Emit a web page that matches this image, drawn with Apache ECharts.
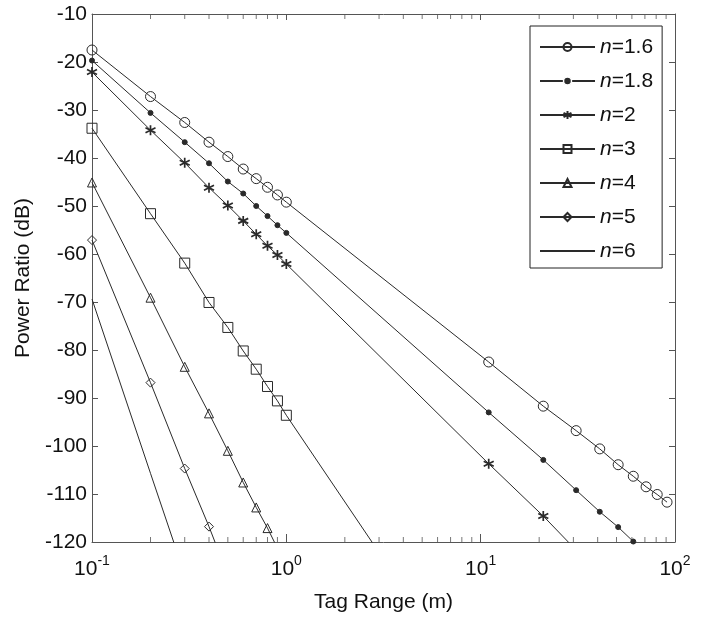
<!DOCTYPE html>
<html>
<head>
<meta charset="utf-8">
<script src="https://cdn.jsdelivr.net/npm/echarts@6/dist/echarts.min.js"></script>
<style>
html,body{margin:0;padding:0;background:#fff;}
#chart{width:708px;height:623px;}
</style>
</head>
<body>
<div id="chart"></div>
<script>
// ---- data ----
const seriesNames = ['n=1.6', 'n=1.8', 'n=2', 'n=3', 'n=4', 'n=5', 'n=6'];
const xNear = [0.1, 0.2, 0.3, 0.4, 0.5, 0.6, 0.7, 0.8, 0.9, 1.0];
const xFar = [11, 21, 31, 41, 51, 61, 71, 81, 91];

const n16Near = [-17.5, -27.2, -32.6, -36.7, -39.7, -42.3, -44.3, -46.1, -47.7, -49.2];
const n16Far = [-82.5, -91.7, -96.8, -100.6, -103.9, -106.3, -108.5, -110.1, -111.7];
const n18Near = [-19.7, -30.6, -36.7, -41.1, -44.9, -47.4, -50.0, -52.1, -54.0, -55.6];
const n18Far = [-93.0, -102.9, -109.2, -113.7, -116.9, -119.9];
const n2Near = [-22.1, -34.2, -41.0, -46.2, -49.9, -53.1, -55.9, -58.3, -60.2, -62.1];
const n2Far = [-103.7, -114.6, -121.7];
const n3Near = [-33.8, -51.6, -61.9, -70.1, -75.3, -80.2, -84.0, -87.6, -90.6, -93.6];
const n3Far = [-156.0];
const n4Near = [-45.1, -69.1, -83.5, -93.2, -101.0, -107.6, -112.8, -117.1, -121.3];
const n5Near = [-57.1, -86.8, -104.7, -116.8, -126.9];
const n6Near = [-69.4, -105.7, -126.8];

const xTickLabels = ['10^-1', '10^0', '10^1', '10^2'];
const minorTicks = [0.2,0.3,0.4,0.5,0.6,0.7,0.8,0.9, 2,3,4,5,6,7,8,9, 20,30,40,50,60,70,80,90];

// ---- build ----
function pairs(xs, ys) {
  const out = [];
  for (let i = 0; i < ys.length; i++) out.push([xs[i], ys[i]]);
  return out;
}
const LINE = '#2a2a2a';
const AXIS = '#555';
const FONT = 'Liberation Sans, Arial, sans-serif';
const asterisk = 'path://M5,0L5,10M0.4,2.5L9.6,7.5M9.6,2.5L0.4,7.5';

function mk(name, data, symbol, size, filled) {
  return {
    name: name, type: 'line', data: data,
    symbol: symbol, symbolSize: size, showAllSymbol: true,
    clip: true, silent: true, animation: false,
    lineStyle: { color: LINE, width: 1 },
    itemStyle: {
      color: filled ? LINE : 'rgba(255,255,255,0)',
      borderColor: LINE, borderWidth: 1
    }
  };
}

const series = [
  mk(seriesNames[0], pairs(xNear, n16Near).concat(pairs(xFar, n16Far)), 'circle', 10, false),
  mk(seriesNames[1], pairs(xNear, n18Near).concat(pairs(xFar, n18Far)), 'circle', 5, true),
  mk(seriesNames[2], pairs(xNear, n2Near).concat(pairs(xFar, n2Far)), asterisk, 10, false),
  mk(seriesNames[3], pairs(xNear, n3Near).concat(pairs(xFar, n3Far)), 'rect', 10, false),
  mk(seriesNames[4], pairs(xNear, n4Near), 'triangle', 9, false),
  mk(seriesNames[5], pairs(xNear, n5Near), 'diamond', 9, false),
  mk(seriesNames[6], pairs(xNear, n6Near), 'none', 1, false)
];
series[2].itemStyle.borderWidth = 1.7;

// minor ticks of log axis (bottom and top), placed through the axis scales
series.push({
  type: 'scatter', silent: true, clip: false, animation: false,
  data: minorTicks.map(v => [v, -120]),
  symbol: 'rect', symbolSize: [1, 5], symbolOffset: [0, -2.5],
  itemStyle: { color: AXIS }
});
series.push({
  type: 'scatter', silent: true, clip: false, animation: false,
  data: minorTicks.map(v => [v, -10]),
  symbol: 'rect', symbolSize: [1, 5], symbolOffset: [0, 2.5],
  itemStyle: { color: AXIS }
});

const legendData = seriesNames.map(function (nm, i) {
  if (i === 6) return { name: nm, itemStyle: { opacity: 0, borderWidth: 0 } };
  if (i === 1) return { name: nm, itemStyle: { borderColor: '#fff', borderWidth: 1.5 } };
  return { name: nm };
});

const chart = echarts.init(document.getElementById('chart'), null, { renderer: 'canvas' });
const labelMap = {0.1: xTickLabels[0], 1: xTickLabels[1], 10: xTickLabels[2], 100: xTickLabels[3]};

chart.setOption({
  animation: false,
  backgroundColor: '#fff',
  textStyle: { fontFamily: FONT },
  grid: { left: 92, right: 33, top: 14, bottom: 81 },
  legend: {
    data: legendData,
    orient: 'vertical',
    left: 530, top: 26,
    padding: [9, 9, 5, 9],
    itemGap: 10,
    itemWidth: 55, itemHeight: 10,
    backgroundColor: '#fff',
    borderColor: '#222', borderWidth: 1,
    borderRadius: 0,
    selectedMode: false,
    formatter: function (name) { return '{i|n}{t|' + name.slice(1) + '}'; },
    textStyle: {
      fontSize: 21, color: '#111', fontFamily: FONT, lineHeight: 24,
      rich: {
        i: { fontStyle: 'italic', fontSize: 21, fontFamily: FONT, color: '#111' },
        t: { fontSize: 21, fontFamily: FONT, color: '#111' }
      }
    }
  },
  xAxis: [{
    type: 'log', logBase: 10, min: 0.1, max: 100,
    position: 'bottom',
    name: 'Tag Range (m)', nameLocation: 'middle', nameGap: 50,
    nameTextStyle: { fontSize: 21, color: '#111', fontFamily: FONT },
    axisLine: { lineStyle: { color: AXIS, width: 1 } },
    axisTick: { inside: true, length: 8, lineStyle: { color: AXIS } },
    splitLine: { show: false },
    axisLabel: {
      margin: 12,
      formatter: function (v) {
        const key = Math.round(Math.log10(v));
        const lbl = labelMap[Math.pow(10, key)] || labelMap[v];
        const parts = lbl.split('^');
        return '{b|' + parts[0] + '}{s|' + parts[1] + '}';
      },
      rich: {
        b: { fontSize: 21, color: '#111', fontFamily: FONT, verticalAlign: 'bottom', lineHeight: 26 },
        s: { fontSize: 14, color: '#111', fontFamily: FONT, verticalAlign: 'top', lineHeight: 26, padding: [0, 0, 10, 0] }
      }
    }
  }, {
    type: 'log', logBase: 10, min: 0.1, max: 100,
    position: 'top',
    axisLine: { lineStyle: { color: AXIS, width: 1 } },
    axisTick: { inside: true, length: 6, lineStyle: { color: AXIS } },
    axisLabel: { show: false },
    splitLine: { show: false }
  }],
  yAxis: [{
    type: 'value', min: -120, max: -10, interval: 10,
    position: 'left',
    name: 'Power Ratio (dB)', nameLocation: 'middle', nameGap: 58, nameRotate: 90,
    nameTextStyle: { fontSize: 21, color: '#111', fontFamily: FONT },
    axisLine: { show: true, lineStyle: { color: AXIS, width: 1 } },
    axisTick: { show: true, inside: true, length: 6, lineStyle: { color: AXIS } },
    splitLine: { show: false },
    axisLabel: { fontSize: 21, color: '#111', fontFamily: FONT, margin: 5 }
  }, {
    type: 'value', min: -120, max: -10, interval: 10,
    position: 'right',
    axisLine: { show: true, lineStyle: { color: AXIS, width: 1 } },
    axisTick: { show: true, inside: true, length: 6, lineStyle: { color: AXIS } },
    splitLine: { show: false },
    axisLabel: { show: false }
  }],
  series: series
});
</script>
</body>
</html>
